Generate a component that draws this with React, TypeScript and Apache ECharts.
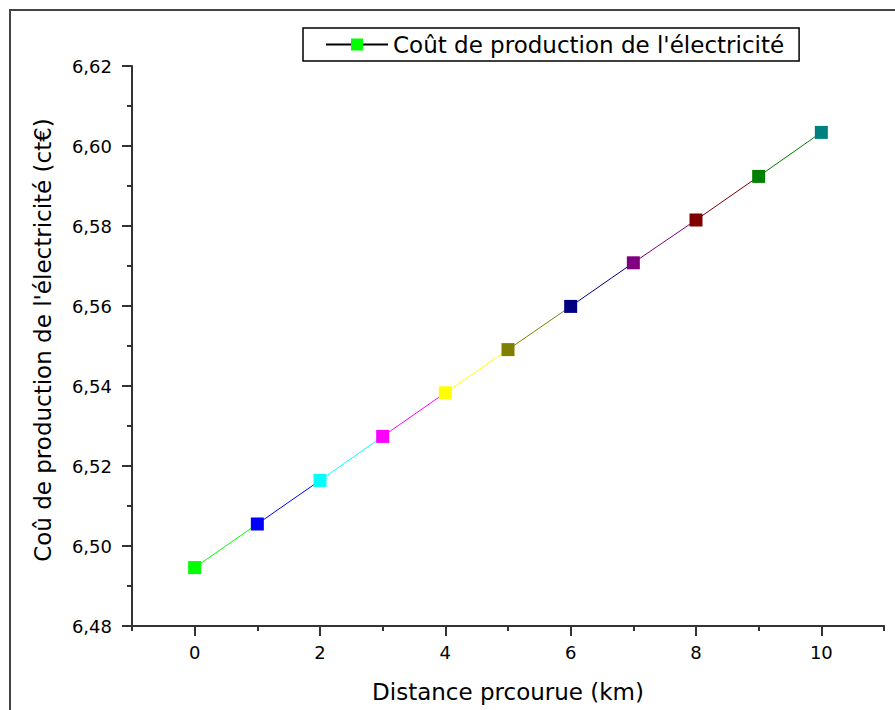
import React, { useEffect, useRef } from "react";
import * as echarts from "echarts";

const distances = [0, 1, 2, 3, 4, 5, 6, 7, 8, 9, 10];
const costs = [6.4946, 6.5055, 6.5164, 6.5274, 6.5383, 6.5491, 6.5599, 6.5708, 6.5815, 6.5924, 6.6034];
const pointColors = [
  "#00FF00", "#0000FF", "#00FFFF", "#FF00FF", "#FFFF00", "#808000",
  "#000080", "#800080", "#800000", "#008000", "#008080",
];
const xMajorTicks = [0, 2, 4, 6, 8, 10];
const xMinorTicks = [-1, 1, 3, 5, 7, 9, 11];
const legendName = "Coût de production de l'électricité";
const xTitle = "Distance prcourue (km)";
const yTitle = "Coû de production de l'électricité (ct€)";

const FONT = "DejaVu Sans";

export default function App() {
  const ref = useRef<HTMLDivElement>(null);
  useEffect(() => {
    if (!ref.current) return;
    const chart = echarts.init(ref.current, undefined, { renderer: "svg" });
    const segments = distances.slice(0, -1).map((d, i) => ({
      type: "line",
      name: "seg" + i,
      data: [
        [d, costs[i]],
        [distances[i + 1], costs[i + 1]],
      ],
      showSymbol: false,
      symbol: "none",
      silent: true,
      lineStyle: { color: pointColors[i], width: 1 },
      z: 2,
    }));
    const axisColor = "#333";
    chart.setOption({
      animation: false,
      backgroundColor: "#fff",
      graphic: [
        {
          type: "rect",
          shape: { x: 10, y: 10, width: 900, height: 720 },
          style: { fill: "none", stroke: "#444", lineWidth: 2 },
          silent: true,
        },
      ],
      legend: {
        data: [legendName],
        left: 303,
        top: 28,
        padding: [5, 15, 5, 22],
        itemWidth: 62,
        itemHeight: 15,
        borderColor: "#000",
        borderWidth: 1.5,
        textStyle: { fontFamily: FONT, fontSize: 23, color: "#000" },
      },
      grid: { left: 132, right: 11, top: 66, bottom: 84, containLabel: false },
      xAxis: [
        {
          type: "value",
          min: -1,
          max: 11,
          interval: 1,
          name: xTitle,
          nameLocation: "middle",
          nameGap: 54,
          nameTextStyle: { fontFamily: FONT, fontSize: 23, color: "#000" },
          axisLine: { show: true, onZero: false, lineStyle: { color: axisColor, width: 2 } },
          axisTick: { show: true, length: 10, customValues: xMajorTicks, lineStyle: { color: axisColor, width: 2 } },
          axisLabel: {
            customValues: xMajorTicks,
            margin: 17,
            fontFamily: FONT,
            fontSize: 18,
            color: "#000",
          },
          splitLine: { show: false },
        },
        {
          type: "value",
          min: -1,
          max: 11,
          interval: 1,
          position: "bottom",
          axisLine: { show: false },
          axisTick: { show: true, length: 5, customValues: xMinorTicks, lineStyle: { color: axisColor, width: 2 } },
          axisLabel: { show: false },
          splitLine: { show: false },
        },
      ],
      yAxis: {
        type: "value",
        min: 6.48,
        max: 6.62,
        interval: 0.02,
        name: yTitle,
        nameLocation: "middle",
        nameGap: 78,
        nameTextStyle: { fontFamily: FONT, fontSize: 23, color: "#000", padding: [0, 0, 0, 12] },
        axisLine: { show: true, onZero: false, lineStyle: { color: axisColor, width: 2 } },
        axisTick: { show: true, length: 10, lineStyle: { color: axisColor, width: 2 } },
        minorTick: { show: true, splitNumber: 2, length: 5, lineStyle: { color: axisColor, width: 2 } },
        axisLabel: {
          margin: 20,
          fontFamily: FONT,
          fontSize: 18,
          color: "#000",
          formatter: (v: number) => v.toFixed(2).replace(".", ","),
        },
        splitLine: { show: false },
      },
      series: [
        ...segments,
        {
          type: "scatter",
          name: "points",
          symbol: "rect",
          symbolSize: 13,
          data: distances.map((d, i) => ({
            value: [d, costs[i]],
            itemStyle: { color: pointColors[i], opacity: 1 },
          })),
          itemStyle: { opacity: 1 },
          z: 3,
        },
        {
          type: "line",
          name: legendName,
          data: [],
          symbol: "rect",
          lineStyle: { color: "#000", width: 1.5 },
          itemStyle: { color: "#00FF00" },
        },
      ],
    });
    return () => chart.dispose();
  }, []);
  return (
    <div
      ref={ref}
      style={{ position: "absolute", left: 0, top: 0, width: 895, height: 710 }}
    />
  );
}
